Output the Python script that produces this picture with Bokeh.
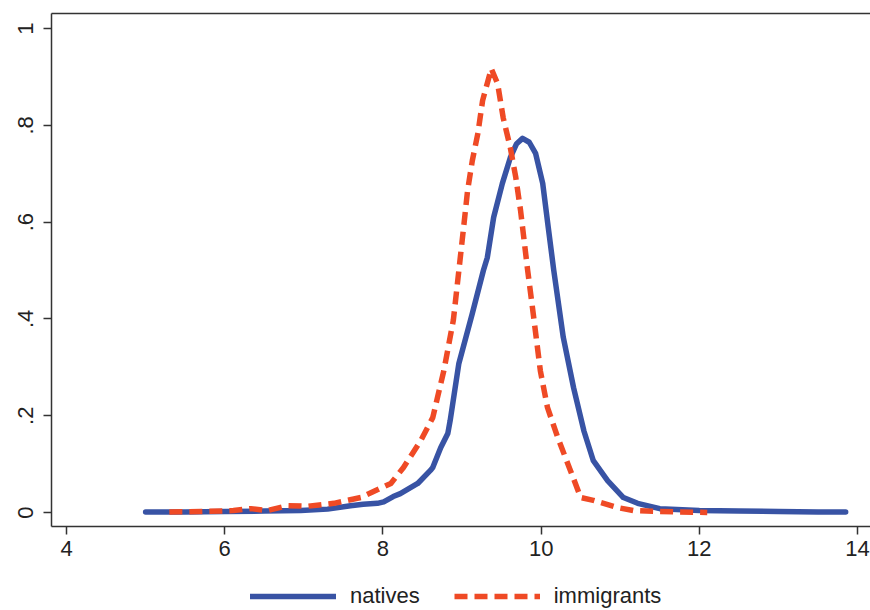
from bokeh.plotting import figure
from bokeh.models import (ColumnDataSource, Range1d, FixedTicker, Legend, LegendItem,
                          LinearAxis)
from bokeh.layouts import column
from bokeh.embed import file_html
from bokeh.resources import INLINE

# ---- data ----
natives_x = [5.0, 5.5, 6.0, 6.5, 6.96, 7.3, 7.59, 7.75, 7.93, 8.01, 8.13, 8.22, 8.44, 8.6,
             8.63, 8.73, 8.82, 8.85, 8.96, 9.13, 9.27, 9.32, 9.4, 9.51, 9.61, 9.69, 9.765,
             9.85, 9.93, 10.02, 10.09, 10.16, 10.28, 10.41, 10.54, 10.66, 10.84, 11.04,
             11.22, 11.5, 12.0, 12.5, 13.0, 13.5, 13.85]
natives_y = [0.001, 0.001, 0.002, 0.003, 0.004, 0.007, 0.014, 0.017, 0.019, 0.022, 0.033,
             0.039, 0.06, 0.087, 0.093, 0.134, 0.163, 0.19, 0.308, 0.411, 0.5, 0.527, 0.61,
             0.68, 0.733, 0.762, 0.773, 0.765, 0.742, 0.68, 0.589, 0.5, 0.362, 0.258, 0.169,
             0.107, 0.066, 0.031, 0.019, 0.008, 0.004, 0.003, 0.002, 0.001, 0.001]

immigrants_x = [5.3, 5.7, 6.11, 6.33, 6.54, 6.79, 7.05, 7.38, 7.72, 8.1, 8.26, 8.48, 8.63,
                8.69, 8.77, 8.89, 8.96, 9.02, 9.07, 9.13, 9.2, 9.26, 9.37, 9.45, 9.52, 9.61,
                9.68, 9.74, 9.83, 9.9, 9.99, 10.08, 10.21, 10.37, 10.5, 10.66, 10.97, 11.17,
                11.5, 12.1]
immigrants_y = [0.001, 0.002, 0.004, 0.008, 0.004, 0.014, 0.013, 0.019, 0.031, 0.06, 0.093,
                0.149, 0.196, 0.238, 0.293, 0.397, 0.5, 0.589, 0.665, 0.727, 0.783, 0.851,
                0.917, 0.886, 0.816, 0.754, 0.692, 0.624, 0.5, 0.411, 0.293, 0.217, 0.155,
                0.087, 0.031, 0.025, 0.01, 0.004, 0.002, 0.0]

x_ticks = [4, 6, 8, 10, 12, 14]
y_ticks = [0, 0.2, 0.4, 0.6, 0.8, 1]
y_tick_labels = {0: "0", 0.2: ".2", 0.4: ".4", 0.6: ".6", 0.8: ".8", 1: "1"}
series_names = ["natives", "immigrants"]

BLUE = "#3853a4"
RED = "#ef4a25"
AX = "#333333"
FONT = "Liberation Sans"

p = figure(width=870, height=572, output_backend="svg", toolbar_location=None,
           x_range=Range1d(3.81, 14.164), y_range=Range1d(-0.0289, 1.031),
           min_border_left=51, min_border_right=0, min_border_top=13, min_border_bottom=46)
p.outline_line_color = None
p.xgrid.visible = False
p.ygrid.visible = False
p.background_fill_color = "white"
p.border_fill_color = "white"

line_n = dict(line_color=BLUE, line_width=5.5, line_join="round", line_cap="round")
line_i = dict(line_color=RED, line_width=5.5, line_dash="13 7", line_join="round")

src_n = ColumnDataSource(dict(x=natives_x, y=natives_y))
src_i = ColumnDataSource(dict(x=immigrants_x, y=immigrants_y))
p.line("x", "y", source=src_n, **line_n)
p.line("x", "y", source=src_i, **line_i)

for ax in (p.xaxis[0], p.yaxis[0]):
    ax.axis_line_color = AX
    ax.axis_line_width = 1.5
    ax.major_tick_line_color = AX
    ax.major_tick_line_width = 1.5
    ax.major_tick_in = 0
    ax.major_tick_out = 8
    ax.minor_tick_line_color = None
    ax.major_label_text_font = FONT
    ax.major_label_text_font_size = "22px"
    ax.major_label_text_color = "#222222"

p.xaxis.ticker = FixedTicker(ticks=x_ticks)
p.xaxis.major_label_standoff = 6
p.yaxis.ticker = FixedTicker(ticks=y_ticks)
p.yaxis.major_label_overrides = y_tick_labels
p.yaxis.major_label_orientation = "vertical"
p.yaxis.major_label_standoff = 10

top = LinearAxis(axis_line_color=AX, axis_line_width=1.5, major_tick_line_color=None,
                 minor_tick_line_color=None, major_label_text_font_size="0px",
                 major_label_standoff=0)
top.ticker = FixedTicker(ticks=[])
p.add_layout(top, "above")

# ---- legend strip below the plot (same series, ranges chosen so they stay hidden) ----
leg = figure(width=870, height=38, output_backend="svg", toolbar_location=None,
             x_range=Range1d(3.81, 14.164), y_range=Range1d(5, 6),
             min_border_left=0, min_border_right=0, min_border_top=0, min_border_bottom=0)
leg.axis.visible = False
leg.xgrid.visible = False
leg.ygrid.visible = False
leg.outline_line_color = None
leg.background_fill_color = "white"
leg.border_fill_color = "white"
g_n = leg.line("x", "y", source=src_n, **line_n)
g_i = leg.line("x", "y", source=src_i, **line_i)

legend = Legend(items=[LegendItem(label=series_names[0], renderers=[g_n]),
                       LegendItem(label=series_names[1], renderers=[g_i])],
                orientation="horizontal", location=(199, 1),
                glyph_width=86, glyph_height=20, label_standoff=14, spacing=34,
                padding=0, margin=0, border_line_color=None, background_fill_alpha=0,
                label_text_font=FONT, label_text_font_size="22px",
                label_text_color="#222222")
leg.add_layout(legend, "center")

layout = column(p, leg, spacing=0)
open("out.html", "w").write(file_html(layout, INLINE))
